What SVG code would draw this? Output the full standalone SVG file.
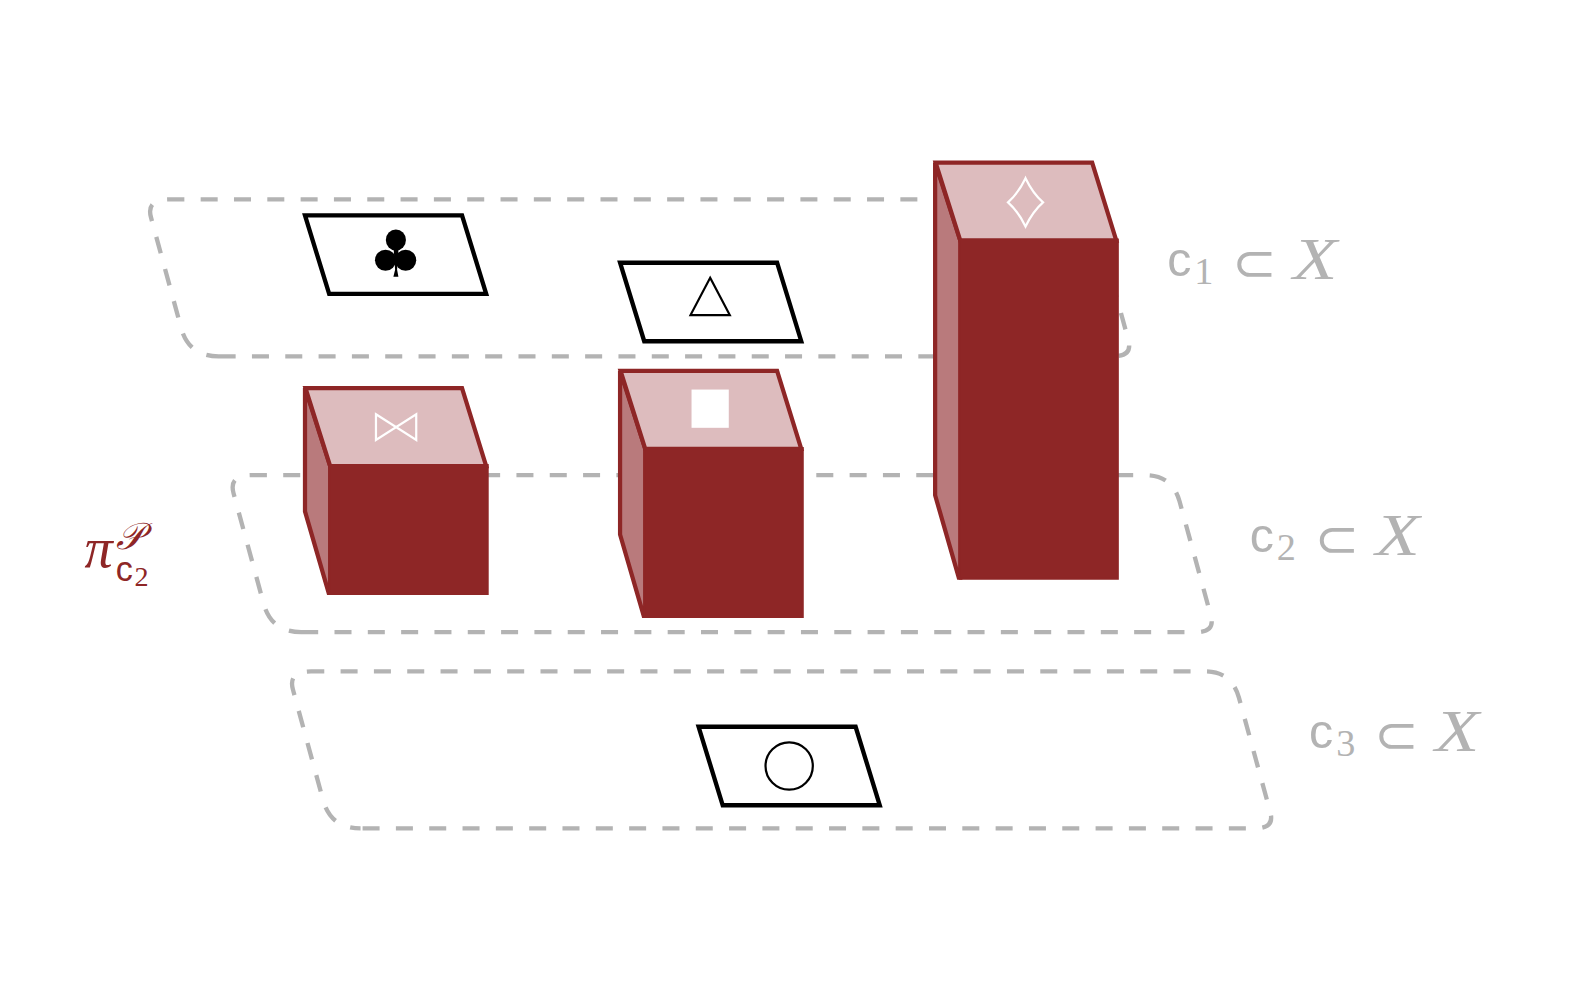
<svg xmlns="http://www.w3.org/2000/svg" width="1579" height="989" viewBox="0 0 1579 989">
<style>
.region{fill:none;stroke:#b3b3b3;stroke-width:4.3;stroke-dasharray:16.9 16.2}
.flat{fill:#fff;stroke:#000;stroke-width:4.3;stroke-linejoin:miter}
.glyph{fill:none;stroke:#000;stroke-width:2.2}
.top{fill:#ddbcbe;stroke:#8e2626;stroke-width:4.2}
.side{fill:#b97a7c;stroke:#8e2626;stroke-width:4.2}
.front{fill:#8e2626;stroke:#8e2626;stroke-width:2}
.wg{fill:none;stroke:#fff;stroke-width:2.2}
.g{fill:#b3b3b3}
.r{fill:#8e2626}
.sf{font-family:"Liberation Sans",sans-serif}
.ser{font-family:"Liberation Serif",serif}
.it{font-family:"Liberation Serif",serif;font-style:italic}
.sym{font-family:"DejaVu Sans",sans-serif}
</style>
<defs>
<path id="reg" d="M299.200,628H1188Q1207.400,628 1203,612L1171.800,498Q1164.500,472 1138,472H250Q227,472 232,490L262,600Q269.700,628 299.200,628Z"/>
<g id="lab">
<text class="g sf" x="0" y="0" font-size="48">c</text>
<text class="g sym" x="64.500" y="4.500" font-size="53">⊂</text>
<text class="g it" x="125" y="2.500" font-size="58" textLength="44" lengthAdjust="spacingAndGlyphs">X</text>
</g>
</defs>
<g transform="scale(1.0066)">
<g id="connectors">
<use class="region" href="#reg" transform="translate(-82,-274)"/>
<use class="region" href="#reg"/>
<use class="region" href="#reg" transform="translate(59,195)" style="stroke-dashoffset:-2"/>
</g>
<g id="club-tile">
<polygon class="flat" points="303,214 459,214 483,292 327,292"/>
<ellipse cx="393.300" cy="238.500" rx="10" ry="10.500"/><circle cx="383" cy="258.500" r="10.500"/><circle cx="403" cy="258.500" r="10.500"/>
<polygon points="391,246 396,246 394.500,268 395.800,275 390.800,275 392.500,268"/>
</g>
<g id="triangle-tile">
<polygon class="flat" points="616,261 772,261 796,339 640,339"/>
<polygon class="glyph" points="705.500,276 725,313 686,313"/>
</g>
<g id="circle-tile">
<polygon class="flat" points="694,722 850,722 874,800 718,800"/>
<circle class="glyph" cx="784" cy="761" r="23.500"/>
</g>
<g id="bowtie-box">
<polygon class="side" points="303,385.500 328,463 328,588.900 326.500,588.900 303,508"/>
<polygon class="top" points="303.500,385.500 459,385.500 483,463 328,463"/>
<polygon class="front" points="327.500,462 484.500,462 484.500,590 327.500,590"/>
<polygon class="wg" points="373.500,411.500 413.500,437 413.500,411.500 373.500,437"/>
</g>
<g id="square-box">
<polygon class="side" points="616,368.500 641,446 641,611.900 639.500,611.900 616,531"/>
<polygon class="top" points="616.500,368.500 772,368.500 796,446 641,446"/>
<polygon class="front" points="640.500,445 797.500,445 797.500,613 640.500,613"/>
<rect x="687" y="387" width="37" height="38" fill="#fff"/>
</g>
<g id="diamond-box">
<polygon class="side" points="929,161.500 954,239 954,573.900 952.500,573.900 929,492"/>
<polygon class="top" points="929.500,161.500 1085,161.500 1109,239 954,239"/>
<polygon class="front" points="953.500,238 1110.500,238 1110.500,575 953.500,575"/>
<path class="wg" d="M1018.800,177Q1026,192 1036.200,201Q1026,210 1018.800,225Q1011.600,210 1001.400,201Q1011.600,192 1018.800,177Z"/>
</g>
<g id="label-c1" transform="translate(1159.500,274.500)">
<use href="#lab"/>
<text class="g ser" x="27" y="7.500" font-size="38">1</text>
</g>
<g id="label-c2" transform="translate(1241.500,548.500)">
<use href="#lab"/>
<text class="g ser" x="27" y="7.500" font-size="38">2</text>
</g>
<g id="label-c3" transform="translate(1300.500,743.500)">
<use href="#lab"/>
<text class="g ser" x="27" y="7.500" font-size="38">3</text>
</g>
<g id="label-pi">
<text class="r it" x="84" y="563" font-size="56">π</text>
<text class="r it" x="115.500" y="545" font-size="37">𝒫</text>
<text class="r sf" x="115" y="577" font-size="34">c</text>
<text class="r ser" x="133.500" y="582.500" font-size="28">2</text>
</g>
</g>
</svg>
